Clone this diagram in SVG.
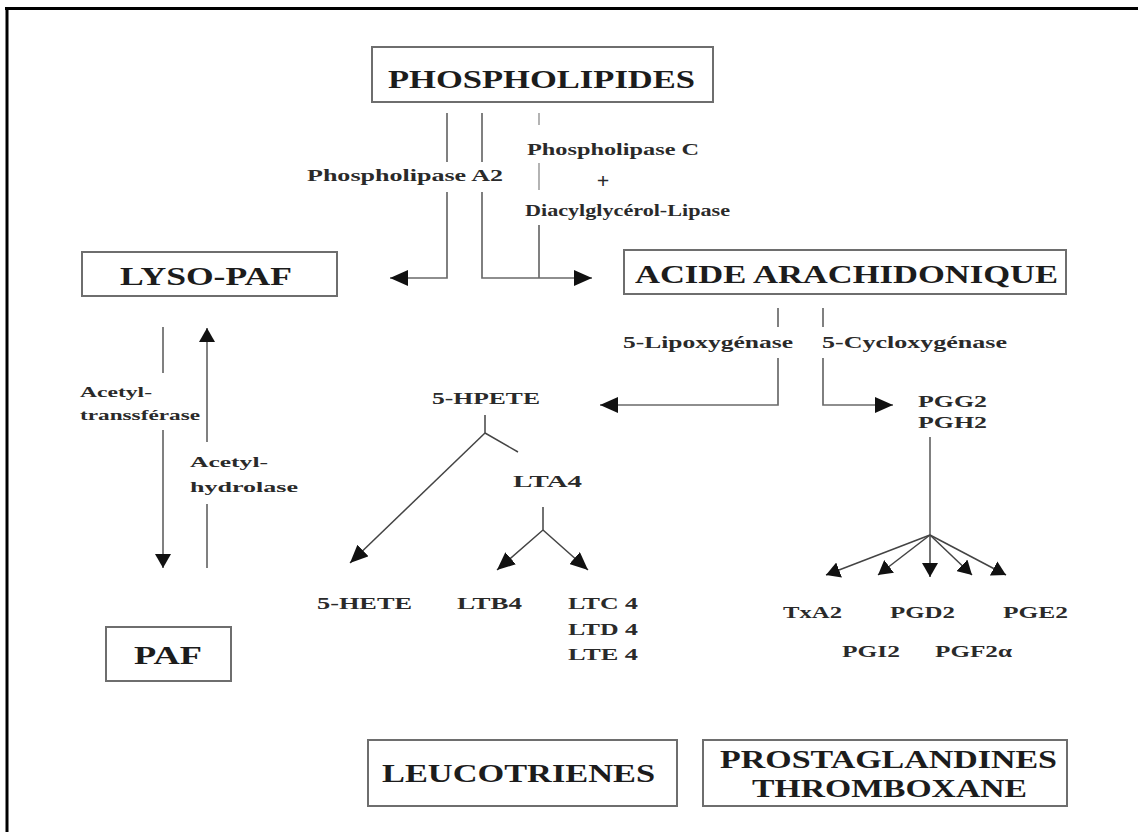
<svg xmlns="http://www.w3.org/2000/svg" width="1138" height="832" viewBox="0 0 1138 832">
<style>
  .box { fill: #ffffff; stroke: #6e6e6e; stroke-width: 2; }
  .title { font-family: "Liberation Serif", "Times New Roman", serif; font-weight: bold; font-size: 26px; fill: #1c1c1c; }
  .lab { font-family: "Liberation Serif", "Times New Roman", serif; font-weight: bold; font-size: 17px; fill: #2a2a2a; }
  .sm { font-family: "Liberation Serif", "Times New Roman", serif; font-weight: bold; font-size: 15px; fill: #2a2a2a; }
  .ln { fill: none; stroke: #6a6a6a; stroke-width: 1.7; }
  .lnd { fill: none; stroke: #444; stroke-width: 1.5; }
</style>
<defs>
  <marker id="ah" viewBox="0 0 18 16" refX="18" refY="8" markerWidth="18" markerHeight="16" markerUnits="userSpaceOnUse" orient="auto">
    <path d="M0,0 L18,8 L0,16 z" fill="#111"/>
  </marker>
  <marker id="ahs" viewBox="0 0 14 16" refX="14" refY="8" markerWidth="14" markerHeight="16" markerUnits="userSpaceOnUse" orient="auto">
    <path d="M0,0 L14,8 L0,16 z" fill="#111"/>
  </marker>
</defs>
<rect x="0" y="0" width="1138" height="832" fill="#ffffff"/>
<g id="frame">
  <line x1="5" y1="8.5" x2="1138" y2="8.5" stroke="#000" stroke-width="3"/>
  <line x1="7" y1="7" x2="7" y2="832" stroke="#000" stroke-width="3"/>
</g>

<g id="connectors">
  <!-- from phospholipides -->
  <path class="ln" d="M447,113 V162"/>
  <path class="ln" d="M447,192 V278 H390" marker-end="url(#ah)"/>
  <path class="ln" d="M482,113 V162"/>
  <path class="ln" d="M482,192 V278 H592" marker-end="url(#ah)"/>
  <path class="ln" d="M539,113 V125" stroke-opacity="0.6"/>
  <path class="ln" d="M539,163 V190" stroke-opacity="0.6"/>
  <path class="ln" d="M539,225 V278"/>
  <!-- from acide arachidonique -->
  <path class="ln" d="M778,308 V327"/>
  <path class="ln" d="M778,358 V405 H600" marker-end="url(#ah)"/>
  <path class="ln" d="M823,308 V327"/>
  <path class="ln" d="M823,358 V405 H893" marker-end="url(#ah)"/>
  <!-- 5-HPETE -->
  <path class="lnd" d="M485,415 V433 L518,452"/>
  <path class="lnd" d="M485,433 L350,563" marker-end="url(#ah)"/>
  <!-- LTA4 -->
  <path class="lnd" d="M543,507 V530 L497,570" marker-end="url(#ah)"/>
  <path class="lnd" d="M543,530 L588,570" marker-end="url(#ah)"/>
  <!-- PGH2 -->
  <path class="ln" d="M930,437 V535"/>
  <path class="lnd" d="M930,535 L826,575" marker-end="url(#ahs)"/>
  <path class="lnd" d="M930,535 L878,575" marker-end="url(#ahs)"/>
  <path class="lnd" d="M930,535 V577" marker-end="url(#ahs)"/>
  <path class="lnd" d="M930,535 L972,575" marker-end="url(#ahs)"/>
  <path class="lnd" d="M930,535 L1006,575" marker-end="url(#ahs)"/>
  <!-- LYSO-PAF / PAF -->
  <path class="ln" d="M163,327 V373"/>
  <path class="ln" d="M163,430 V568" marker-end="url(#ahs)"/>
  <path class="ln" d="M207,568 V504"/>
  <path class="ln" d="M207,442 V328" marker-end="url(#ahs)"/>
</g>

<g id="labels">
  <text class="lab" x="307" y="181" textLength="196" lengthAdjust="spacingAndGlyphs">Phospholipase A2</text>
  <text class="lab" x="527" y="155" textLength="172" lengthAdjust="spacingAndGlyphs">Phospholipase C</text>
  <text class="lab" x="603" y="188" text-anchor="middle" style="font-size:22px">+</text>
  <text class="lab" x="525" y="216" textLength="205" lengthAdjust="spacingAndGlyphs">Diacylglycérol-Lipase</text>
  <text class="lab" x="623" y="348" textLength="170" lengthAdjust="spacingAndGlyphs">5-Lipoxygénase</text>
  <text class="lab" x="822" y="348" textLength="185" lengthAdjust="spacingAndGlyphs">5-Cycloxygénase</text>
  <text class="sm" x="80" y="397" textLength="72" lengthAdjust="spacingAndGlyphs">Acetyl-</text>
  <text class="sm" x="80" y="420" textLength="120" lengthAdjust="spacingAndGlyphs">transsférase</text>
  <text class="sm" x="190" y="467" textLength="78" lengthAdjust="spacingAndGlyphs">Acetyl-</text>
  <text class="sm" x="190" y="492" textLength="108" lengthAdjust="spacingAndGlyphs">hydrolase</text>
</g>

<g id="phospholipides">
  <rect class="box" x="372" y="47" width="341" height="55"/>
  <text class="title" x="388" y="88" textLength="307" lengthAdjust="spacingAndGlyphs">PHOSPHOLIPIDES</text>
</g>
<g id="lyso-paf">
  <rect class="box" x="82" y="252" width="255" height="44"/>
  <text class="title" x="120" y="285" textLength="172" lengthAdjust="spacingAndGlyphs">LYSO-PAF</text>
</g>
<g id="acide-arachidonique">
  <rect class="box" x="624" y="250" width="442" height="44"/>
  <text class="title" x="635" y="283" textLength="423" lengthAdjust="spacingAndGlyphs">ACIDE ARACHIDONIQUE</text>
</g>
<g id="paf">
  <rect class="box" x="106" y="627" width="125" height="54"/>
  <text class="title" x="134" y="664" textLength="68" lengthAdjust="spacingAndGlyphs">PAF</text>
</g>
<g id="hpete">
  <text class="lab" x="432" y="404" textLength="108" lengthAdjust="spacingAndGlyphs">5-HPETE</text>
</g>
<g id="lta4">
  <text class="lab" x="513" y="487" textLength="69" lengthAdjust="spacingAndGlyphs">LTA4</text>
</g>
<g id="hete">
  <text class="lab" x="317" y="609" textLength="95" lengthAdjust="spacingAndGlyphs">5-HETE</text>
</g>
<g id="ltb4">
  <text class="lab" x="457" y="609" textLength="65" lengthAdjust="spacingAndGlyphs">LTB4</text>
</g>
<g id="ltc4">
  <text class="lab" x="568" y="609" textLength="70" lengthAdjust="spacingAndGlyphs">LTC 4</text>
  <text class="lab" x="568" y="635" textLength="70" lengthAdjust="spacingAndGlyphs">LTD 4</text>
  <text class="lab" x="568" y="660" textLength="70" lengthAdjust="spacingAndGlyphs">LTE 4</text>
</g>
<g id="pgg2">
  <text class="lab" x="918" y="407" textLength="69" lengthAdjust="spacingAndGlyphs">PGG2</text>
  <text class="lab" x="918" y="428" textLength="69" lengthAdjust="spacingAndGlyphs">PGH2</text>
</g>
<g id="prostanoids">
  <text class="lab" x="783" y="618" textLength="59" lengthAdjust="spacingAndGlyphs">TxA2</text>
  <text class="lab" x="890" y="618" textLength="65" lengthAdjust="spacingAndGlyphs">PGD2</text>
  <text class="lab" x="1003" y="618" textLength="65" lengthAdjust="spacingAndGlyphs">PGE2</text>
  <text class="lab" x="842" y="657" textLength="58" lengthAdjust="spacingAndGlyphs">PGI2</text>
  <text class="lab" x="935" y="657" textLength="77" lengthAdjust="spacingAndGlyphs">PGF2α</text>
</g>
<g id="leucotrienes">
  <rect class="box" x="368" y="740" width="309" height="66"/>
  <text class="title" x="382" y="782" textLength="273" lengthAdjust="spacingAndGlyphs">LEUCOTRIENES</text>
</g>
<g id="prostaglandines">
  <rect class="box" x="703" y="740" width="364" height="66"/>
  <text class="title" x="720" y="768" textLength="337" lengthAdjust="spacingAndGlyphs">PROSTAGLANDINES</text>
  <text class="title" x="752" y="797" textLength="275" lengthAdjust="spacingAndGlyphs">THROMBOXANE</text>
</g>
</svg>
